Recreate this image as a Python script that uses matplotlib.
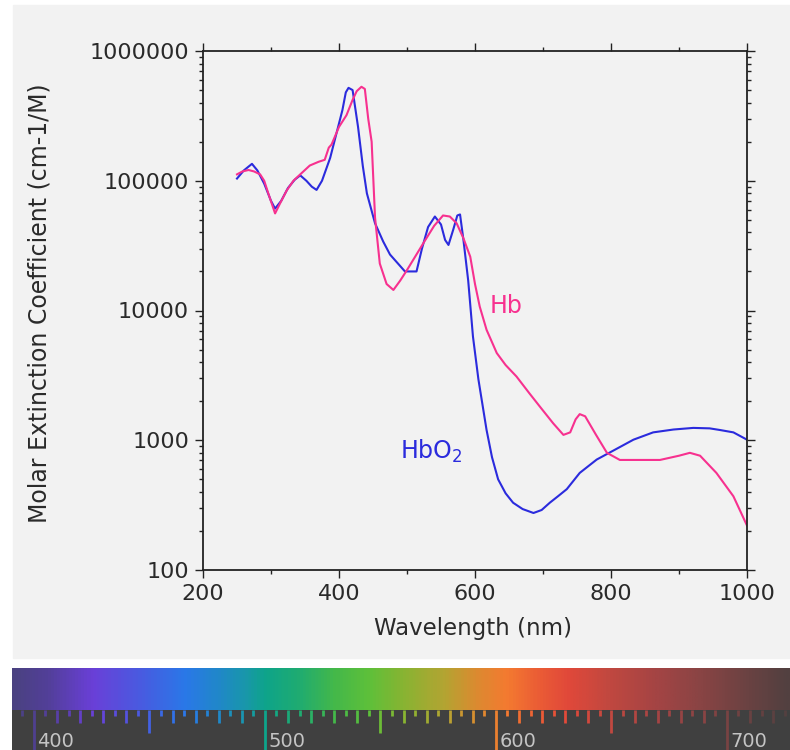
import numpy as np
import matplotlib
matplotlib.use('Agg')
import matplotlib.pyplot as plt
from matplotlib.colors import LinearSegmentedColormap, Normalize
from matplotlib.patches import Rectangle
from matplotlib.ticker import MultipleLocator, FuncFormatter, NullFormatter

# HbO2 (oxy) curve
hbo2_nm = [250, 260, 272, 280, 290, 300, 306, 315, 325, 335, 343, 352, 360, 367,
           375, 387, 397, 405, 410, 414, 420, 428, 435, 441, 453, 465, 475, 490,
           497, 514, 522, 531, 541, 550, 556, 561, 568, 574, 578, 583, 590, 597,
           605, 617, 625, 634, 645, 656, 670, 686, 698, 710, 722, 735, 754, 779,
           803, 833, 862, 892, 921, 945, 960, 980, 1000]
hbo2_eps = [1.04e5, 1.2e5, 1.35e5, 1.2e5, 9.5e4, 7.0e4, 6.1e4, 7.0e4, 8.8e4, 1.02e5,
            1.1e5, 1.0e5, 9.0e4, 8.5e4, 1.0e5, 1.5e5, 2.4e5, 3.5e5, 4.8e5, 5.2e5,
            5.0e5, 2.6e5, 1.3e5, 8.0e4, 4.7e4, 3.4e4, 2.7e4, 2.2e4, 2.0e4, 2.0e4,
            3.0e4, 4.4e4, 5.3e4, 4.6e4, 3.5e4, 3.2e4, 4.2e4, 5.4e4, 5.5e4, 3.5e4,
            1.7e4, 6.3e3, 2.95e3, 1.2e3, 740, 500, 390, 330, 295, 275, 290, 330,
            370, 420, 560, 710, 830, 1010, 1150, 1210, 1245, 1235, 1200, 1150, 1010]

# Hb (deoxy) curve
hb_nm = [250, 258, 267, 275, 284, 290, 296, 306, 314, 323, 333, 343, 357, 370,
         379, 385, 389, 400, 411, 420, 426, 433, 438, 443, 448, 453, 460, 470,
         480, 490, 500, 512, 524, 540, 553, 563, 573, 583, 593, 600, 607, 617,
         625, 632, 645, 661, 680, 696, 715, 730, 740, 748, 754, 762, 778, 794,
         813, 840, 872, 900, 916, 931, 955, 980, 1000]
hb_eps = [1.12e5, 1.18e5, 1.21e5, 1.18e5, 1.12e5, 1.0e5, 8.0e4, 5.6e4, 6.8e4, 8.4e4,
          1.0e5, 1.12e5, 1.31e5, 1.4e5, 1.45e5, 1.8e5, 1.9e5, 2.6e5, 3.2e5, 4.2e5,
          4.9e5, 5.3e5, 5.1e5, 3.0e5, 2.0e5, 5.2e4, 2.3e4, 1.6e4, 1.44e4, 1.7e4,
          2.05e4, 2.6e4, 3.3e4, 4.5e4, 5.4e4, 5.3e4, 4.7e4, 3.6e4, 2.6e4, 1.6e4,
          1.07e4, 7.1e3, 5.7e3, 4.7e3, 3.8e3, 3.1e3, 2.3e3, 1.8e3, 1.35e3, 1.1e3,
          1.15e3, 1.45e3, 1.59e3, 1.53e3, 1.1e3, 800, 705, 705, 705, 760, 800,
          760, 560, 370, 220]

# spectrum strip colour stops
spec_nm = [390, 405, 425, 445, 465, 480, 492, 500, 515, 530, 545, 560, 578, 592,
           605, 620, 632, 650, 670, 690, 710, 727]
spec_col = ['#4a4280', '#523f98', '#6a40d8', '#4a5ae0', '#2a78e8', '#2088c8',
            '#1898a8', '#0ea48a', '#20ac70', '#44b84a', '#5ec03a', '#88b432',
            '#b4a432', '#dc8a30', '#f47a30', '#ea5a36', '#e0483a', '#c04840',
            '#a44444', '#884444', '#6a4242', '#524040']
spec_labels = [400, 500, 600, 700]

blue = '#2b2bdd'
pink = '#f7318f'
W, H = 790, 750

fig = plt.figure(figsize=(7.9, 7.5), dpi=100)
fig.patch.set_facecolor('white')
fig.patches.append(Rectangle((13 / W, 1 - 658 / H), 777 / W, 653 / H,
                             transform=fig.transFigure, color='#f2f2f2', zorder=-10))

ax = fig.add_axes([203 / W, 1 - 570 / H, 544 / W, 519 / H])
ax.set_facecolor('#f2f2f2')
ax.plot(hbo2_nm, hbo2_eps, color=blue, lw=1.5)
ax.plot(hb_nm, hb_eps, color=pink, lw=1.5)
ax.set_yscale('log')
ax.set_xlim(200, 1000)
ax.set_ylim(100, 1e6)
ax.xaxis.set_major_locator(MultipleLocator(200))
ax.xaxis.set_minor_locator(MultipleLocator(100))
ax.yaxis.set_major_formatter(FuncFormatter(lambda v, p: '%d' % round(v)))
ax.yaxis.set_minor_formatter(NullFormatter())
ax.tick_params(which='both', direction='out', top=True, right=True,
               width=1, color='#222222', labelcolor='#2a2a2a')
ax.tick_params(which='major', length=6, labelsize=16, pad=4)
ax.tick_params(which='minor', length=3)
for s in ax.spines.values():
    s.set_linewidth(1.3)
    s.set_color('#222222')

ax.text(622, 9.6e3, 'Hb', color=pink, fontsize=17)
ax.text(490, 724, r'HbO$_2$', color=blue, fontsize=17)

fig.text(40 / W, 1 - 303 / H, 'Molar Extinction Coefficient (cm-1/M)', rotation=90,
         ha='center', va='center', fontsize=17, color='#2a2a2a')
fig.text(473 / W, 1 - 629 / H, 'Wavelength (nm)', ha='center', va='center',
         fontsize=16.5, color='#2a2a2a')

# visible spectrum strip
lo, hi = 390.5, 727.3
cmap = LinearSegmentedColormap.from_list(
    'spec', [((n - spec_nm[0]) / (spec_nm[-1] - spec_nm[0]), c) for n, c in zip(spec_nm, spec_col)])
norm = Normalize(spec_nm[0], spec_nm[-1])
sax = fig.add_axes([12 / W, 0, 778 / W, 82 / H])
sax.set_facecolor('#404040')
sax.set_xlim(lo, hi)
sax.set_ylim(0, 82)
sax.set_xticks([])
sax.set_yticks([])
for s in sax.spines.values():
    s.set_visible(False)
xs = np.linspace(lo, hi, 800)
sax.imshow(xs[None, :], cmap=cmap, norm=norm, extent=[lo, hi, 40, 82], aspect='auto')
for w in range(395, 726, 5):
    if w % 100 == 0:
        L = 40
    elif w % 50 == 0:
        L = 23
    elif w % 10 == 0:
        L = 13
    else:
        L = 6
    sax.vlines(w, 40 - L, 40, color=cmap(norm(w)), lw=2)
for w in spec_labels:
    sax.text(w + 1.5, 3, str(w), color='#c4c4c4', fontsize=14, va='baseline')

fig.savefig('out.png', dpi=100)
